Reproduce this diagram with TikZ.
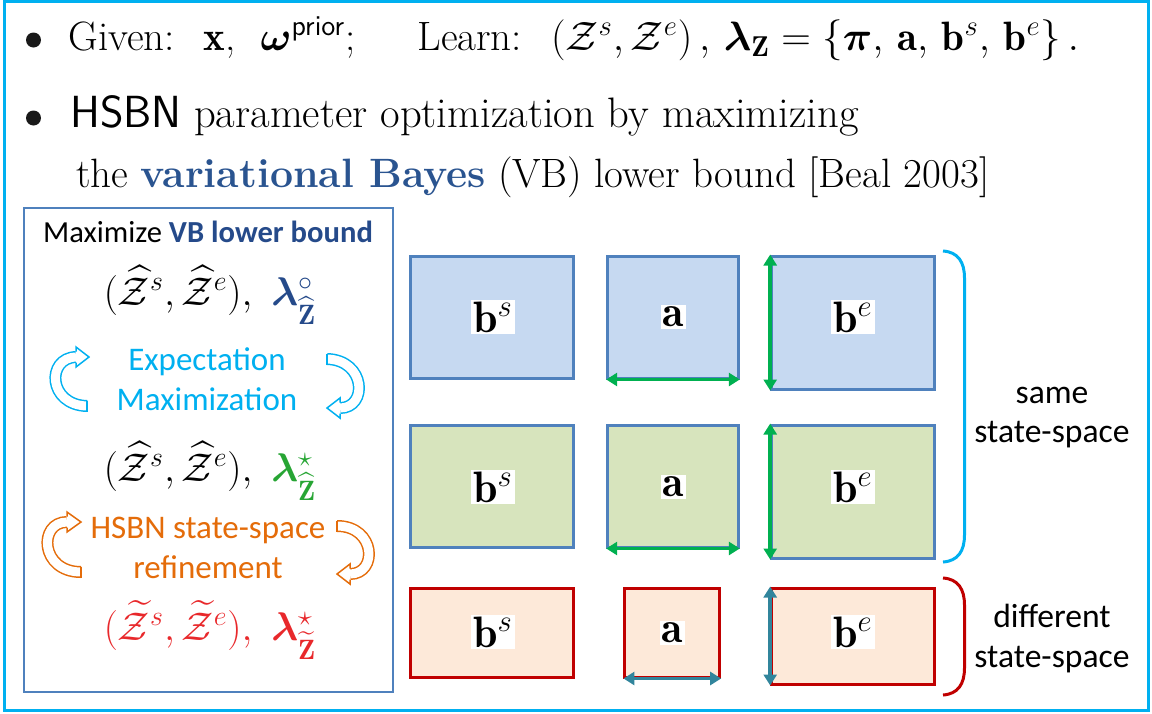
\RequirePackage{fix-cm}
\documentclass[tikz,border=0pt]{standalone}
\usepackage{amsmath}
\usepackage{fontspec}
\usepackage{bm}
\newfontfamily\carl{Carlito}
\usetikzlibrary{arrows.meta}
\definecolor{cyanF}{HTML}{00B0F0}
\definecolor{dblue}{HTML}{254A8A}
\definecolor{vbblue}{HTML}{2A5490}
\definecolor{bborder}{HTML}{4F81BD}
\definecolor{bfill}{HTML}{C6D9F1}
\definecolor{gfill}{HTML}{D7E4BD}
\definecolor{rborder}{HTML}{C00000}
\definecolor{rfill}{HTML}{FDE9D9}
\definecolor{garr}{HTML}{00B050}
\definecolor{tarr}{HTML}{31859C}
\definecolor{orangeF}{HTML}{E46C0A}
\definecolor{lgreen}{HTML}{27A534}
\definecolor{lred}{HTML}{E8282B}
\begin{document}
\begin{tikzpicture}[x=0.5pt,y=-0.5pt,
  toptext/.style={font=\fontsize{20.5}{24}\selectfont, inner sep=0pt, anchor=base west},
  bul/.style={circle, fill=black!90, inner sep=0pt, minimum size=7.5pt},
  mathline/.style={font=\fontsize{20}{24}\selectfont, inner sep=0pt, anchor=base},
  calib/.style={font=\carl\fontsize{16.5}{20}\selectfont, inner sep=0pt, anchor=base},
  bx/.style={draw=bborder, line width=1.5pt, inner sep=0pt},
  rbx/.style={draw=rborder, fill=rfill, line width=1.5pt, inner sep=0pt},
  lab/.style={fill=white, inner sep=1pt, font=\fontsize{22}{26}\selectfont},
  garrow/.style={draw=garr, line width=1.8pt, >={Triangle[width=6.5pt,length=5.5pt]}, <->},
  tarrow/.style={draw=tarr, line width=1.8pt, >={Triangle[width=6.5pt,length=5.5pt]}, <->},
  side/.style={font=\carl\fontsize{16.8}{20}\selectfont, inner sep=0pt, anchor=base},
  band/.style={line width=0.75pt, double=white, double distance=4.5pt},
]
\useasboundingbox (0,0) rectangle (1152,713);
\draw[cyanF, line width=1.5pt] (4.5,1.5) rectangle (1148.5,710.5);

% top text
\node[bul] (bul1) at (33.5,40) {};
\node[toptext] (given) at (68,50) {Given:~ $\mathbf{x}$,~ $\bm{\omega}^{\textsf{prior}}$;};
\node[toptext] (learn) at (417,50) {Learn:~ $\left(\mathcal{Z}^s,\mathcal{Z}^e\right),\,\bm{\lambda}_{\mathbf{Z}}=\left\{\bm{\pi},\,\mathbf{a},\,\mathbf{b}^s,\,\mathbf{b}^e\right\}.$};
\node[bul] (bul2) at (33.5,118) {};
\node[toptext] (hsbn) at (70,127) {{\fontsize{22.5}{24}\selectfont\textsf{HSBN}} {\fontsize{21.3}{24}\selectfont parameter optimization by maximizing}};
\node[toptext] (vb) at (76,187) {the \textcolor{vbblue}{\textbf{variational Bayes}} (VB) lower bound [Beal 2003]};

% left box
\draw[bborder, line width=1.2pt] (24,208) rectangle (393,692);
\node[anchor=base, inner sep=0pt, font=\carl\fontsize{15.3}{18}\selectfont] (maxvb) at (208,242) {Maximize \textcolor{dblue}{\textbf{VB lower bound}}};
\node[mathline] (m1) at (210,305) {$(\widehat{\mathcal{Z}}^s,\widehat{\mathcal{Z}}^e),\ \color{dblue}\bm{\lambda}^{\circ}_{\widehat{\mathbf{Z}}}$};
\node[calib, text=cyanF] (exp) at (207,370) {Expectation};
\node[calib, text=cyanF] (maxi) at (207,410) {Maximization};
\node[mathline] (m2) at (210,481) {$(\widehat{\mathcal{Z}}^s,\widehat{\mathcal{Z}}^e),\ \color{lgreen}\bm{\lambda}^{\star}_{\widehat{\mathbf{Z}}}$};
\node[calib, text=orangeF] (hs) at (208,538) {HSBN state-space};
\node[calib, text=orangeF] (ref) at (208,578) {refinement};
\node[mathline, text=lred] (m3) at (210,640) {$(\widetilde{\mathcal{Z}}^s,\widetilde{\mathcal{Z}}^e),\ \bm{\lambda}^{\star}_{\widetilde{\mathbf{Z}}}$};

% curved block arrows
% cyan left
\draw[cyanF, band] (87,406) .. controls (48,405) and (46,358) .. (76,357);
\draw[cyanF, line width=0.75pt] (87,400.5) -- (87,411.5);
\fill[white] (76,347) -- (89,357) -- (76,367) -- cycle;
\draw[cyanF, line width=0.75pt, line join=miter] (76,351.5) -- (76,347) -- (89,357) -- (76,367) -- (76,362.5);
% cyan right
\draw[cyanF, band] (327,359) .. controls (366,360) and (368,408) .. (340,408);
\draw[cyanF, line width=0.75pt] (327,353.5) -- (327,364.5);
\fill[white] (340,398) -- (327,408) -- (340,418) -- cycle;
\draw[cyanF, line width=0.75pt, line join=miter] (340,402.5) -- (340,398) -- (327,408) -- (340,418) -- (340,413.5);
% orange left
\draw[orangeF, band] (81,572) .. controls (40,572) and (38,522) .. (67,522);
\draw[orangeF, line width=0.75pt] (81,566.5) -- (81,577.5);
\fill[white] (67,512) -- (81,522) -- (67,532) -- cycle;
\draw[orangeF, line width=0.75pt, line join=miter] (67,516.5) -- (67,512) -- (81,522) -- (67,532) -- (67,527.5);
% orange right
\draw[orangeF, band] (337,526) .. controls (376,526) and (378,574) .. (350,574);
\draw[orangeF, line width=0.75pt] (337,520.5) -- (337,531.5);
\fill[white] (350,564) -- (337,574) -- (350,584) -- cycle;
\draw[orangeF, line width=0.75pt, line join=miter] (350,568.5) -- (350,564) -- (337,574) -- (350,584) -- (350,579.5);

% boxes row 1
\node[bx, fill=bfill, minimum width=81.25pt, minimum height=61pt] (bs1) at (492,317) {};
\node[bx, fill=bfill, minimum width=65.3pt, minimum height=61pt] (a1) at (673,317) {};
\node[bx, fill=bfill, minimum width=81.3pt, minimum height=66.5pt] (be1) at (853,322.5) {};
% row 2
\node[bx, fill=gfill, minimum width=81.25pt, minimum height=61pt] (bs2) at (492,486) {};
\node[bx, fill=gfill, minimum width=65.3pt, minimum height=61pt] (a2) at (673,486) {};
\node[bx, fill=gfill, minimum width=81.3pt, minimum height=66.5pt] (be2) at (853,491.5) {};
% row 3
\node[rbx, minimum width=81.25pt, minimum height=44.5pt] (bs3) at (492,632.5) {};
\node[rbx, minimum width=47.35pt, minimum height=44.5pt] (a3) at (672.3,632.5) {};
\node[rbx, minimum width=81.3pt, minimum height=48pt] (be3) at (853,636) {};

% labels
\node[lab] (lbs1) at (493,317) {$\mathbf{b}^s$};
\node[lab] (la1) at (673.5,317) {$\mathbf{a}$};
\node[lab] (lbe1) at (853,317) {$\mathbf{b}^e$};
\node[lab] (lbs2) at (493,487) {$\mathbf{b}^s$};
\node[lab] (la2) at (673.5,487) {$\mathbf{a}$};
\node[lab] (lbe2) at (853,487) {$\mathbf{b}^e$};
\node[lab] (lbs3) at (493,632) {$\mathbf{b}^s$};
\node[lab] (la3) at (672.5,633) {$\mathbf{a}$};
\node[lab] (lbe3) at (853,632) {$\mathbf{b}^e$};

% arrows
\draw[garrow] (a1.south west) -- (a1.south east);
\draw[garrow] (be1.north west) -- (be1.south west);
\draw[garrow] (a2.south west) -- (a2.south east);
\draw[garrow] (be2.north west) -- (be2.south west);
\draw[tarrow] (a3.south west) -- (a3.south east);
\draw[tarrow] (be3.north west) -- (be3.south west);

% braces
\draw[cyanF, line width=1.5pt] (943,251) .. controls (958,252) and (964.5,262) .. (964.5,278) -- (964.5,535) .. controls (964.5,551) and (958,561) .. (943,562);
\draw[rborder, line width=1.5pt] (943,578) .. controls (958,579) and (964.5,589) .. (964.5,605) -- (964.5,668) .. controls (964.5,684) and (958,694) .. (943,695);

% side labels
\node[side] (same) at (1052,403) {same};
\node[side] (ss1) at (1052,442) {state-space};
\node[side] (diff) at (1052,627) {different};
\node[side] (ss2) at (1052,667) {state-space};
\end{tikzpicture}
\end{document}
